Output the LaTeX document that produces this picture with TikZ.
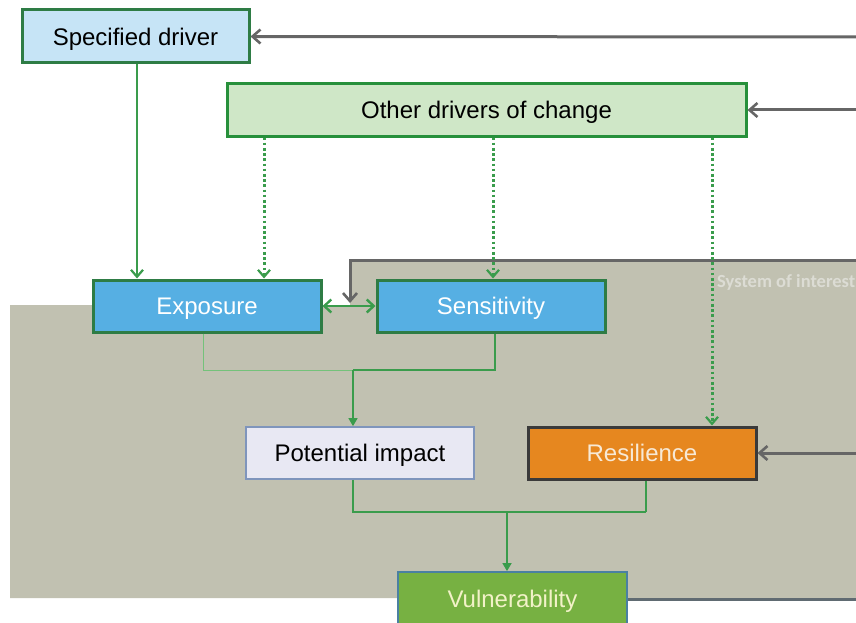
\documentclass[tikz,border=0pt]{standalone}
\usepackage{fontspec}
\setmainfont{Liberation Sans}
\newfontfamily\calfont{Carlito}
\usetikzlibrary{arrows.meta}
\definecolor{bggray}{HTML}{C1C1B1}
\definecolor{linegray}{HTML}{666666}
\definecolor{arrgreen}{HTML}{3A9C4C}
\definecolor{thingreen}{HTML}{74C27A}
\definecolor{specfill}{HTML}{C6E4F6}
\definecolor{otherfill}{HTML}{CFE7C7}
\definecolor{boxgreen}{HTML}{2E7C45}
\definecolor{bluefill}{HTML}{56AFE3}
\definecolor{potfill}{HTML}{E8E8F3}
\definecolor{potline}{HTML}{7F95BC}
\definecolor{resfill}{HTML}{E6871F}
\definecolor{resline}{HTML}{3A3A3A}
\definecolor{restext}{HTML}{F7E9D6}
\definecolor{vulfill}{HTML}{77B142}
\definecolor{vulline}{HTML}{4A80A2}
\definecolor{vultext}{HTML}{F2F2C8}
\definecolor{soitext}{HTML}{DCDCD4}
\begin{document}
\begin{tikzpicture}[x=1pt,y=-1pt,
  box/.style={draw, line width=3pt, minimum width=228pt, minimum height=52pt,
    inner sep=0pt, text depth=0pt, font=\fontsize{24}{28}\selectfont},
  grayarrow/.style={draw=linegray, line width=3pt, -{Straight Barb[length=8pt,width=14pt,line width=2.6pt]}},
  greenarrow/.style={draw=arrgreen, line width=2.2pt, -{Straight Barb[length=7pt,width=12pt,line width=2.2pt]}},
  dotarrow/.style={draw=arrgreen, line width=3pt, dash pattern=on 2.6pt off 2.6pt, -{Straight Barb[length=7pt,width=12pt,line width=2.2pt]}},
  flow/.style={draw=arrgreen, line width=1.6pt},
  flowarrow/.style={draw=arrgreen, line width=1.6pt, -{Triangle[length=8pt,width=9pt]}}
]
\useasboundingbox (0,0) rectangle (856,623);
\clip (0,0) rectangle (856,623);
% background region
\fill[bggray] (10,305) -- (350,305) -- (350,260) -- (860,260) -- (860,598) -- (10,598) -- cycle;
\node[font=\calfont\bfseries\fontsize{18.5}{22}\selectfont, text=soitext, anchor=west, inner sep=0pt] (soi) at (717,282) {System of interest};

% nodes
\node[box, fill=specfill, draw=boxgreen, minimum width=227pt, minimum height=53pt] (spec) at (135.5,36.5) {Specified driver};
\node[box, fill=otherfill, draw=boxgreen!85!green, minimum width=519pt, minimum height=52pt] (other) at (486.5,110) {Other drivers of change};
\node[box, fill=bluefill, draw=boxgreen, text=white] (expo) at (207,306) {Exposure};
\node[box, fill=bluefill, draw=boxgreen, text=white] (sens) at (491,306) {Sensitivity};
\node[box, fill=potfill, draw=potline, line width=1.8pt] (pot) at (360,453) {Potential impact};
\node[box, fill=resfill, draw=resline, text=restext] (res) at (642,453) {Resilience};
\node[box, fill=vulfill, draw=vulline, line width=1.8pt, text=vultext, minimum width=229pt, minimum height=53pt] (vul) at (512.5,598.5) {Vulnerability};

% external coordinates
\coordinate (e1) at (860,37);
\coordinate (e2) at (860,110);
\coordinate (e3) at (860,260);
\coordinate (e3b) at (350,260);
\coordinate (e4) at (860,453);
\coordinate (e5) at (860,599);
\coordinate (mid) at (350,303);

% gray feedback arrows
\draw[grayarrow] (e1) -- (spec.east);
\draw[grayarrow] (e2) -- (other.east);
\draw[grayarrow] (e3) -- (e3b) -- (mid);
\draw[grayarrow] (e4) -- (res.east);
\draw[draw=linegray!80!vulline, line width=3pt] (vul.east |- e5) -- (e5);

% driver arrows
\draw[greenarrow] (spec.south -| 137,0) -- (expo.north -| 137,0);
\draw[dotarrow] (other.south -| 264,0) -- (expo.north -| 264,0);
\draw[dotarrow] (other.south -| 493,0) -- (sens.north -| 493,0);
\draw[dotarrow] (other.south -| 712,0) -- (res.north -| 712,0);

% exposure <-> sensitivity
\draw[draw=arrgreen, line width=2.6pt, {Straight Barb[length=7pt,width=13pt,line width=2.4pt]}-{Straight Barb[length=7pt,width=13pt,line width=2.4pt]}] (expo.east) -- (sens.west);

% to potential impact
\draw[draw=thingreen, line width=1pt] (expo.south -| 203,0) -- (203,370) -- (353,370);
\draw[flow] (sens.south -| 495,0) -- (495,370) -- (353,370);
\draw[flowarrow] (353,370) -- (pot.north -| 353,0);

% to vulnerability
\draw[flow] (pot.south -| 353,0) -- (353,512) -- (646,512);
\draw[flow] (res.south -| 646,0) -- (646,512);
\draw[flowarrow] (507,512) -- (vul.north -| 507,0);
\end{tikzpicture}
\end{document}
